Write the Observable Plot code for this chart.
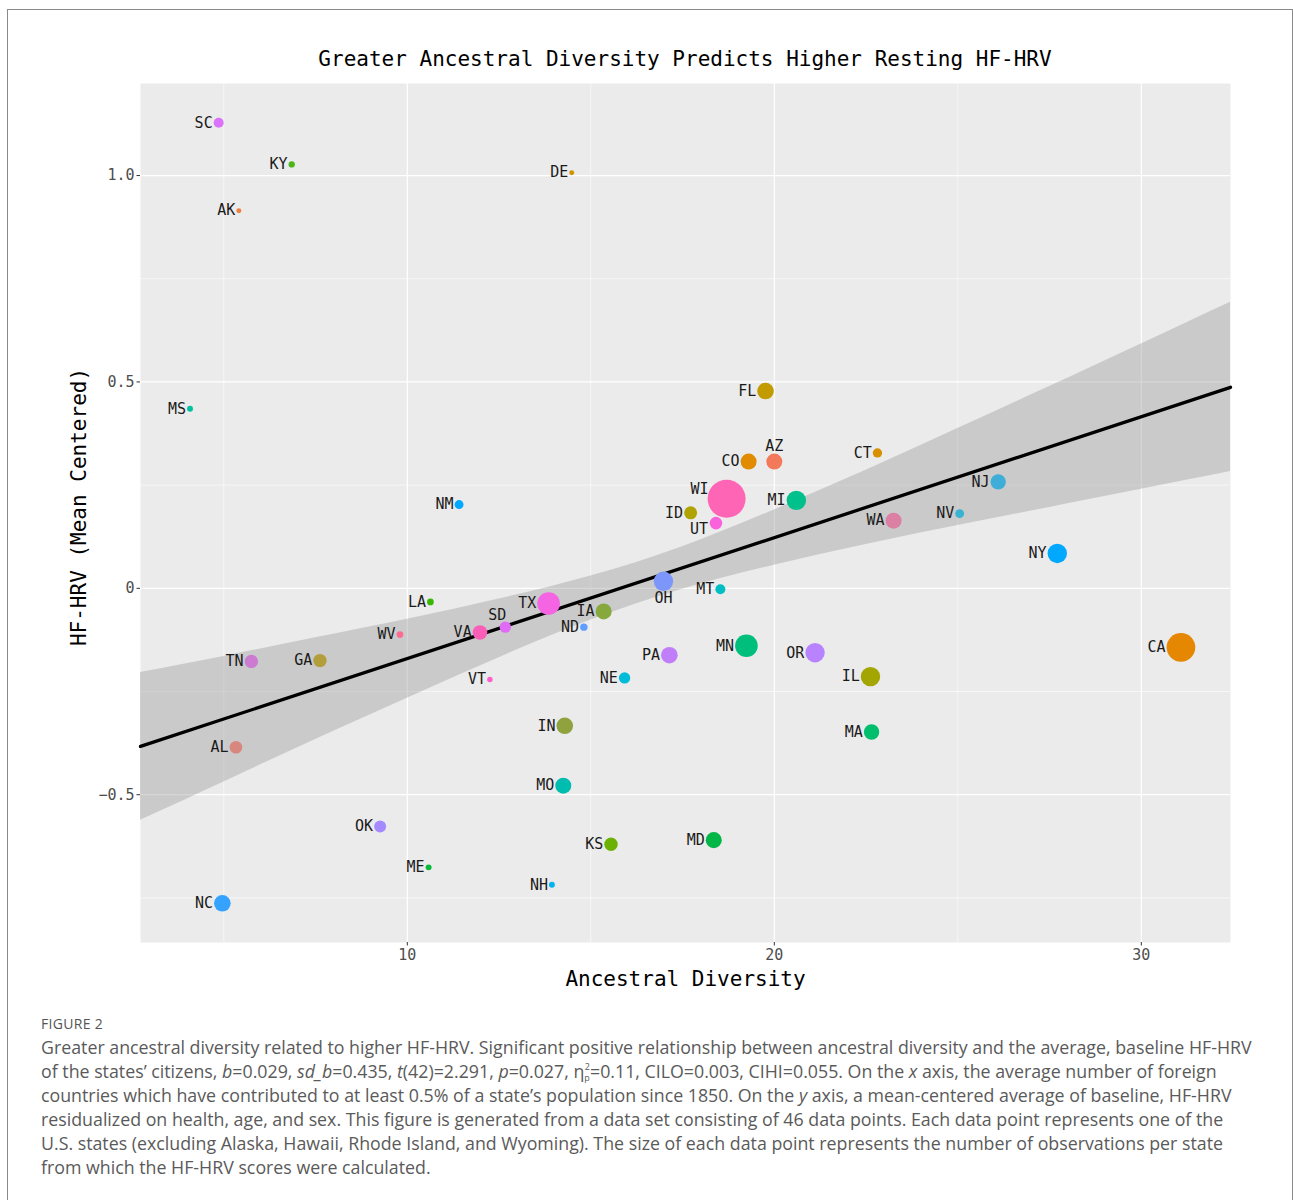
<!DOCTYPE html>
<html>
<head>
<meta charset="utf-8">
<script src="https://cdn.jsdelivr.net/npm/d3@7"></script>
<script src="https://cdn.jsdelivr.net/npm/@observablehq/plot@0.6"></script>
<style>
  body { margin: 0; background: #fff; }
  #frame { position: absolute; left: 7px; top: 9px; width: 1286px; height: 1260px; border: 1px solid #8a8a8a; box-sizing: border-box; }
  #title { position: absolute; left: 140px; width: 1090px; top: 45px; text-align: center; font-family: "DejaVu Sans Mono"; font-size: 21px; line-height: 28px; color: #000; white-space: nowrap; }
  #chart { position: absolute; left: 0; top: 70px; }
  #figlabel { position: absolute; left: 41px; top: 1015px; font-family: "Open Sans"; font-size: 14px; line-height: 18px; color: #555; letter-spacing: 0.3px; }
  #caption { position: absolute; left: 41px; top: 1035px; font-family: "Open Sans"; font-size: 17.8px; line-height: 24px; color: #5a5a5a; white-space: nowrap; }
  #caption .sb { font-size: 9px; position: relative; top: 3px; vertical-align: baseline; line-height: 0; }
  #caption .sp { font-size: 9px; position: relative; top: -8px; margin-left: -5px; vertical-align: baseline; line-height: 0; }
</style>
</head>
<body>
<div id="frame"></div>
<div id="title">Greater Ancestral Diversity Predicts Higher Resting HF-HRV</div>
<div id="chart"></div>
<div id="figlabel">FIGURE 2</div>
<div id="caption">Greater ancestral diversity related to higher HF-HRV. Significant positive relationship between ancestral diversity and the average, baseline HF-HRV<br>of the states’ citizens, <i>b</i>=0.029, <i>sd_b</i>=0.435, <i>t</i>(42)=2.291, <i>p</i>=0.027, η<span class="sb">p</span><span class="sp">2</span>=0.11, CILO=0.003, CIHI=0.055. On the <i>x</i> axis, the average number of foreign<br>countries which have contributed to at least 0.5% of a state’s population since 1850. On the <i>y</i> axis, a mean-centered average of baseline, HF-HRV<br>residualized on health, age, and sex. This figure is generated from a data set consisting of 46 data points. Each data point represents one of the<br>U.S. states (excluding Alaska, Hawaii, Rhode Island, and Wyoming). The size of each data point represents the number of observations per state<br>from which the HF-HRV scores were calculated.</div>
<script>
// ---- data ----
const states = ["AL","AZ","AK","CA","CO","CT","DE","FL","GA","ID","IL","IN","IA","KS","KY","LA","ME","MD","MA","MI","MN","MS","MO","MT","NE","NV","NH","NJ","NM","NY","NC","ND","OH","OK","OR","PA","SC","SD","TN","TX","UT","VT","VA","WA","WV","WI"];
const diversity = [5.33,20.00,5.41,31.08,19.30,22.81,14.48,19.76,7.62,17.72,22.62,14.29,15.35,15.55,6.85,10.63,10.58,18.35,22.65,20.60,19.24,4.08,14.25,18.53,15.92,25.05,13.94,26.10,11.41,27.71,4.96,14.81,16.98,9.26,21.11,17.14,4.86,12.67,5.75,13.85,18.41,12.25,11.98,23.25,9.80,18.70];
const hrv = [-0.385,0.307,0.915,-0.143,0.307,0.328,1.007,0.478,-0.175,0.183,-0.214,-0.333,-0.056,-0.620,1.027,-0.033,-0.676,-0.610,-0.348,0.213,-0.139,0.435,-0.478,-0.002,-0.217,0.181,-0.718,0.258,0.203,0.0845,-0.763,-0.094,0.017,-0.577,-0.156,-0.162,1.128,-0.094,-0.177,-0.037,0.158,-0.221,-0.107,0.164,-0.112,0.217];
const observations = [64,103,10,330,103,35,10,111,72,68,151,111,103,72,16,18,14,103,95,151,206,14,103,40,52,32,14,95,32,151,111,22,151,58,151,111,40,52,72,206,64,12,86,103,18,580];

// fitted regression line and its confidence band
const fitX = [2.73, 32.43];
const fitY = [-0.383, 0.487];
const bandX    = [2.73, 5, 7.5, 10, 12.5, 15, 17.5, 20, 22.5, 25, 27.5, 30, 32.43];
const bandLow  = [-0.562,-0.469,-0.366,-0.266,-0.168,-0.077,-0.002,0.056,0.106,0.152,0.196,0.240,0.283];
const bandHigh = [-0.204,-0.165,-0.120,-0.075,-0.026,0.030,0.101,0.190,0.286,0.387,0.489,0.592,0.693];

const xTicks = [10, 20, 30];
const xMinor = [5, 15, 25];
const yTicks = [-0.5, 0, 0.5, 1.0];
const yMinor = [-0.75, -0.25, 0.25, 0.75];

// ---- styles ----
const stateColors = ["#D7877D","#F27A5A","#EE8040","#E58700","#E08B00","#D89000","#CF9400","#C29B00","#B29F3C","#B0A300","#A3A500","#8FA23E","#86A83C","#6BB100","#4CB51A","#39B600","#00BA38","#00B646","#00BE6C","#00C08B","#00BF7D","#00C19F","#00BDB0","#00BFC4","#00BCD8","#39B3D0","#00B4F0","#3EAED8","#00A9FF","#00A8FF","#35A2FF","#619CFF","#7C97F9","#A58AFF","#B983FF","#C07EF8","#DB72FB","#E06CF6","#CB7CD0","#F564E3","#FA62DC","#FF5FC8","#FA5FB8","#DB7FA3","#FF6C91","#FF65B5"];
const labelPlace = {
  AZ: {anchor: "middle", dx: 0, dy: -15},
  SD: {anchor: "end", dx: 1, dy: -12},
  WI: {anchor: "end", dx: -18, dy: -10},
  UT: {anchor: "end", dx: -8, dy: 6},
  OH: {anchor: "middle", dx: 0, dy: 17}
};

const data = states.map((s, i) => ({state: s, x: diversity[i], y: hrv[i], obs: observations[i]}));
const band = bandX.map((x, i) => ({x, lo: bandLow[i], hi: bandHigh[i]}));
const fit = fitX.map((x, i) => ({x, y: fitY[i]}));

const rDomain = [0, 580], rRange = [0, 19];
const rs = d3.scaleSqrt().domain(rDomain).range(rRange);

const labelMarks = data.map(d => {
  const p = labelPlace[d.state];
  const r = rs(d.obs);
  return Plot.text([d], {
    x: "x", y: "y", text: "state",
    textAnchor: p ? p.anchor : "end",
    dx: p ? p.dx : -(r + 1),
    dy: p ? p.dy : 0,
    fill: "#1a1a1a", fontSize: 15
  });
});

const chart = Plot.plot({
  width: 1293, height: 930,
  marginLeft: 140, marginRight: 63, marginTop: 13, marginBottom: 58,
  style: {fontFamily: "DejaVu Sans Mono", fontSize: "15px", background: "transparent", color: "#222"},
  x: {domain: [2.73, 32.43]},
  y: {domain: [-0.858, 1.223]},
  r: {type: "sqrt", domain: rDomain, range: rRange},
  color: {domain: states, range: stateColors},
  marks: [
    Plot.frame({fill: "#EBEBEB", stroke: null}),
    Plot.gridX(xMinor, {stroke: "white", strokeOpacity: 1, strokeWidth: 0.6}),
    Plot.gridY(yMinor, {stroke: "white", strokeOpacity: 1, strokeWidth: 0.6}),
    Plot.gridX(xTicks, {stroke: "white", strokeOpacity: 1, strokeWidth: 1.2}),
    Plot.gridY(yTicks, {stroke: "white", strokeOpacity: 1, strokeWidth: 1.2}),
    Plot.areaY(band, {x: "x", y1: "lo", y2: "hi", fill: "#999999", fillOpacity: 0.4, curve: "natural"}),
    Plot.line(fit, {x: "x", y: "y", stroke: "black", strokeWidth: 3.3}),
    Plot.dot(data, {x: "x", y: "y", r: "obs", fill: "state", stroke: null}),
    ...labelMarks,
    Plot.axisX({ticks: xTicks, tickSize: 3.5, tickPadding: 3, stroke: "#333", fill: "#4D4D4D", label: null, tickFormat: d => String(d)}),
    Plot.axisY({ticks: yTicks, tickSize: 3.5, tickPadding: 2.5, stroke: "#333", fill: "#4D4D4D", label: null,
      tickFormat: d => d === 0 ? "0" : d3.format(".1f")(d)}),
    Plot.text(["Ancestral Diversity"], {frameAnchor: "bottom", lineAnchor: "middle", textAnchor: "middle", dy: 37, fontSize: 21, fill: "#000", text: d => d}),
    Plot.text(["HF-HRV (Mean Centered)"], {frameAnchor: "left", textAnchor: "middle", lineAnchor: "middle", rotate: -90, dx: -61, dy: -6, fontSize: 21, fill: "#000", text: d => d})
  ]
});
document.getElementById("chart").appendChild(chart);
</script>
</body>
</html>
